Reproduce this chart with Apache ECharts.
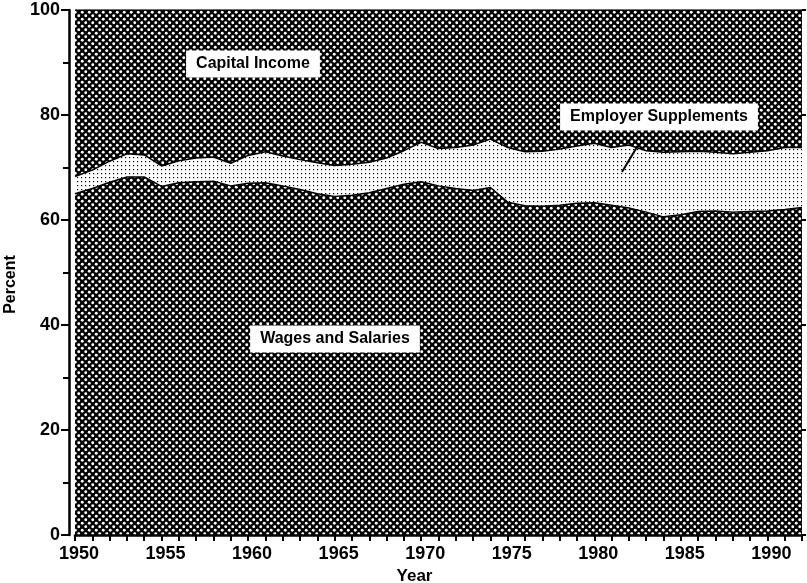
<!DOCTYPE html>
<html>
<head>
<meta charset="utf-8">
<script src="https://cdn.jsdelivr.net/npm/echarts@6/dist/echarts.min.js"></script>
<style>
  html, body { margin: 0; background: #fff; }
  #chart { width: 807px; height: 583px; }
</style>
</head>
<body>
<div id="chart"></div>
<script>
// years on the x axis
const years = [1950, 1951, 1952, 1953, 1954, 1955, 1956, 1957, 1958, 1959,
  1960, 1961, 1962, 1963, 1964, 1965, 1966, 1967, 1968, 1969,
  1970, 1971, 1972, 1973, 1974, 1975, 1976, 1977, 1978, 1979,
  1980, 1981, 1982, 1983, 1984, 1985, 1986, 1987, 1988, 1989,
  1990, 1991, 1992];

// shares of income, percent
const wages = [65.0, 66.0, 67.2, 68.2, 68.2, 66.4, 67.1, 67.3, 67.4, 66.5,
  67.0, 67.1, 66.5, 65.8, 65.0, 64.5, 64.7, 65.2, 66.0, 66.8,
  67.3, 66.5, 66.0, 65.6, 66.2, 63.4, 62.7, 62.6, 62.8, 63.2,
  63.3, 62.8, 62.3, 61.5, 60.6, 61.0, 61.6, 61.7, 61.5, 61.6,
  61.7, 62.0, 62.4];
const supplements = [3.3, 3.5, 4.0, 4.4, 4.2, 3.9, 4.2, 4.5, 4.6, 4.3,
  5.3, 5.9, 5.7, 5.7, 5.9, 5.9, 5.9, 5.8, 5.8, 6.4,
  7.5, 7.1, 7.8, 8.7, 9.2, 10.4, 10.3, 10.5, 10.7, 10.9,
  11.3, 11.0, 12.0, 11.7, 12.3, 12.0, 11.5, 11.2, 11.1, 11.3,
  11.5, 11.8, 11.4];
const capital = [31.7, 30.5, 28.8, 27.4, 27.6, 29.7, 28.7, 28.2, 28.0, 29.2,
  27.7, 27.0, 27.8, 28.5, 29.1, 29.6, 29.4, 29.0, 28.2, 26.8,
  25.2, 26.4, 26.2, 25.7, 24.6, 26.2, 27.0, 26.9, 26.5, 25.9,
  25.4, 26.2, 25.7, 26.8, 27.1, 27.0, 26.9, 27.1, 27.4, 27.1,
  26.8, 26.2, 26.2];

const seriesNames = ["Wages and Salaries", "Employer Supplements", "Capital Income"];

// fill patterns like the printed halftones
function makePattern(size, bg, fg, dots, r, square) {
  const c = document.createElement("canvas");
  c.width = size;
  c.height = size;
  const g = c.getContext("2d");
  g.fillStyle = bg;
  g.fillRect(0, 0, size, size);
  g.fillStyle = fg;
  dots.forEach(function (d) {
    if (square) {
      g.fillRect(d[0], d[1], r, r);
    } else {
      g.beginPath();
      g.arc(d[0], d[1], r, 0, Math.PI * 2);
      g.fill();
    }
  });
  return { image: c, repeat: "repeat" };
}

const darkFill = makePattern(7, "#000", "#fff", [[1.75, 1.75], [5.25, 5.25]], 1.45);
const lightFill = makePattern(4, "#fff", "#000", [[1, 1]], 1.2, true);

const font = '"Liberation Sans", Arial, sans-serif';

const myChart = echarts.init(document.getElementById("chart"));

function areaSeries(name, values, fill) {
  return {
    name: name,
    type: "line",
    stack: "total",
    showSymbol: false,
    data: values,
    lineStyle: { color: "#000", width: 1.5 },
    areaStyle: { color: fill, opacity: 1 },
    z: 2
  };
}

const labelStyle = {
  fill: "#000",
  font: "bold 16px " + font,
  align: "center",
  verticalAlign: "middle",
  backgroundColor: "#fff",
  padding: [6, 10, 5, 10]
};

myChart.setOption({
  animation: false,
  grid: {
    left: 75, right: 5, top: 10, bottom: 48,
    // let the axis names sit near the edge without shrinking the plot
    outerBounds: { left: -50, right: -50, top: -50, bottom: -50 }
  },
  xAxis: {
    type: "category",
    data: years,
    boundaryGap: false,
    z: 10,
    name: "Year",
    nameLocation: "middle",
    nameGap: 31,
    nameTextStyle: { color: "#000", fontSize: 17, fontWeight: "bold", fontFamily: font, padding: [0, 48, 0, 0] },
    axisLine: { show: true, lineStyle: { color: "#000", width: 2.5 } },
    axisTick: { show: true, inside: false, interval: 0, length: 6, lineStyle: { color: "#000", width: 2 } },
    axisLabel: {
      color: "#000", fontSize: 18, fontWeight: "bold", fontFamily: font, margin: 10,
      padding: [0, 0, 0, 8],
      interval: function (index, value) { return Number(value) % 5 === 0; }
    },
    splitLine: { show: false }
  },
  yAxis: [
    {
      type: "value",
      min: 0,
      max: 100,
      interval: 20,
      offset: 6,
      z: 10,
      name: "Percent",
      nameLocation: "middle",
      nameRotate: 90,
      nameGap: 50,
      nameTextStyle: { color: "#000", fontSize: 16, fontWeight: "bold", fontFamily: font, padding: [0, 24, 0, 0] },
      axisLine: { show: true, lineStyle: { color: "#000", width: 2.5 } },
      axisTick: { show: true, length: 8, lineStyle: { color: "#000", width: 2 } },
      minorTick: { show: true, splitNumber: 2, length: 6, lineStyle: { color: "#000", width: 2 } },
      axisLabel: { color: "#000", fontSize: 18, fontWeight: "bold", fontFamily: font, margin: 9 },
      splitLine: { show: false }
    },
    {
      type: "value",
      position: "right",
      min: 0,
      max: 100,
      interval: 20,
      z: 10,
      axisLine: { show: false },
      axisTick: { show: true, length: 4, lineStyle: { color: "#000", width: 2 } },
      axisLabel: { show: false },
      splitLine: { show: false }
    }
  ],
  series: [
    areaSeries(seriesNames[0], wages, darkFill),
    areaSeries(seriesNames[1], supplements, lightFill),
    areaSeries(seriesNames[2], capital, darkFill)
  ],
  graphic: [
    { type: "text", x: 253, y: 64, z: 10, style: Object.assign({ text: seriesNames[2] }, labelStyle) },
    { type: "text", x: 335, y: 339, z: 10, style: Object.assign({ text: seriesNames[0] }, labelStyle) },
    { type: "text", x: 659, y: 117, z: 10, style: Object.assign({ text: seriesNames[1] }, labelStyle) },
    { type: "line", z: 10, shape: { x1: 637, y1: 147, x2: 622, y2: 172 }, style: { stroke: "#000", lineWidth: 2 } }
  ]
});
</script>
</body>
</html>
